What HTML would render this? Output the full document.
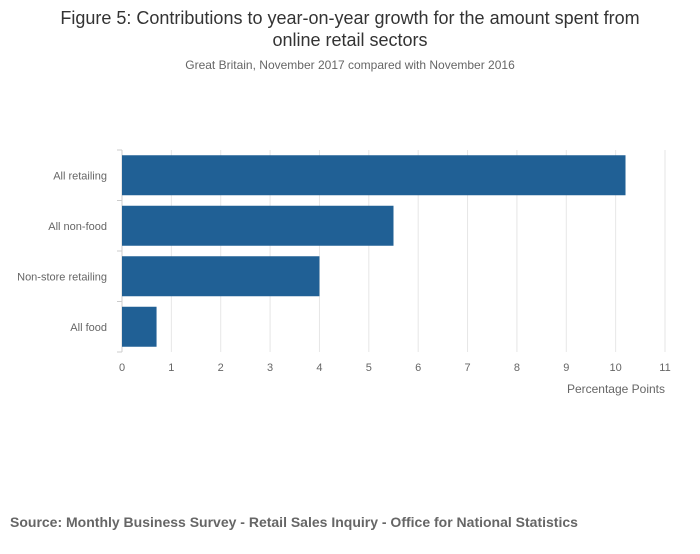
<!DOCTYPE html>
<html><head><meta charset="utf-8"><style>
body{margin:0;background:#fff;width:700px;height:549px;overflow:hidden;font-family:"Liberation Sans",sans-serif}
</style></head><body>
<svg width="700" height="549">
<text x="350" y="24" text-anchor="middle" font-size="18" fill="#333">Figure 5: Contributions to year-on-year growth for the amount spent from</text>
<text x="350" y="46" text-anchor="middle" font-size="18" fill="#333">online retail sectors</text>
<text x="350" y="69" text-anchor="middle" font-size="12" fill="#666">Great Britain, November 2017 compared with November 2016</text>
<g id="grid"></g><g id="bars"></g><g id="axes"></g>
<text x="665" y="393" text-anchor="end" font-size="12" fill="#666">Percentage Points</text>
<text x="10" y="527" font-size="14" font-weight="bold" fill="#666">Source: Monthly Business Survey - Retail Sales Inquiry - Office for National Statistics</text>
</svg>
<script>
const categories=["All retailing","All non-food","Non-store retailing","All food"];
const values=[10.2,5.5,4.0,0.7];
const xTicks=[0,1,2,3,4,5,6,7,8,9,10,11];
const NS="http://www.w3.org/2000/svg";
const x0=122,x1=665,yTop=150,yBot=352,xMax=11;
const xs=v=>x0+v/xMax*(x1-x0);
const band=(yBot-yTop)/categories.length;
function mk(tag,attrs,parent){const e=document.createElementNS(NS,tag);for(const k in attrs)e.setAttribute(k,attrs[k]);document.getElementById(parent).appendChild(e);return e;}
xTicks.forEach(t=>{
 const l=mk('line',{x1:xs(t),x2:xs(t),y1:yTop,y2:yBot,stroke:t===0?'#ccc':'#e6e6e6'},'grid');
 
 
 const tx=mk('text',{x:xs(t),y:371,'text-anchor':'middle','font-size':11,fill:'#666'},'axes');
 tx.textContent=t;
 
 
});
for(let i=0;i<=categories.length;i++){
 const y=yTop+i*band;
 const l=mk('line',{x1:x0-5,x2:x0,y1:y,y2:y,stroke:'#ccc'},'axes');
 
 
}
categories.forEach((c,i)=>{
 const yc=yTop+(i+0.5)*band;
 const r=mk('rect',{x:x0,y:yc-20,width:xs(values[i])-x0,height:40,fill:'#206095'},'bars');
 
 
 const t=mk('text',{x:107,y:yc+4,'text-anchor':'end','font-size':11,fill:'#666'},'axes');
 t.textContent=c;
 
 
});
</script>
</body></html>
